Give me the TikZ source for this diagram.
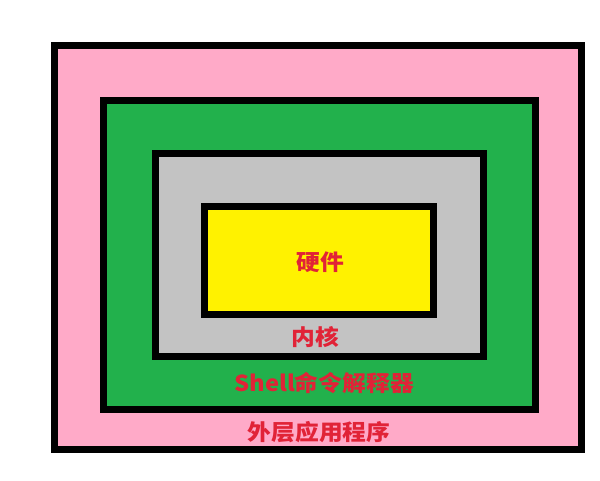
\documentclass[tikz,border=0pt]{standalone}
\usepackage{fontspec}
\newfontfamily\cjk{Noto Sans CJK SC}
\definecolor{pinkfill}{RGB}{255,170,200}
\definecolor{greenfill}{RGB}{34,177,76}
\definecolor{grayfill}{RGB}{195,195,195}
\definecolor{yellowfill}{RGB}{255,242,0}
\definecolor{labelred}{RGB}{225,35,55}
\begin{document}
\begin{tikzpicture}[x=1pt,y=-1pt,
  layer/.style={draw=black,line width=7pt,rectangle,inner sep=0pt},
  lbl/.style={text=labelred,font=\cjk\bfseries\fontsize{22}{22}\selectfont,inner sep=0pt,xscale=1.08}]
\useasboundingbox (0,0) rectangle (600,480);
\fill[white] (0,0) rectangle (600,480);
\node[layer,fill=pinkfill,minimum width=527pt,minimum height=403.5pt] (app) at (318,247.25) {};
\node[layer,fill=greenfill,minimum width=432pt,minimum height=309pt] (shell) at (319,255) {};
\node[layer,fill=grayfill,minimum width=328.5pt,minimum height=202.5pt] (kernel) at (319.25,254.75) {};
\node[layer,fill=yellowfill,minimum width=229pt,minimum height=107.5pt] (hw) at (318.5,260.25) {};
\node[lbl] (hwlabel) at (320,262) {硬件};
\node[lbl] (kernellabel) at (315,337) {内核};
\node[lbl] (shelllabel) at (324,383) {Shell命令解释器};
\node[lbl] (applabel) at (319,432) {外层应用程序};
\end{tikzpicture}
\end{document}
